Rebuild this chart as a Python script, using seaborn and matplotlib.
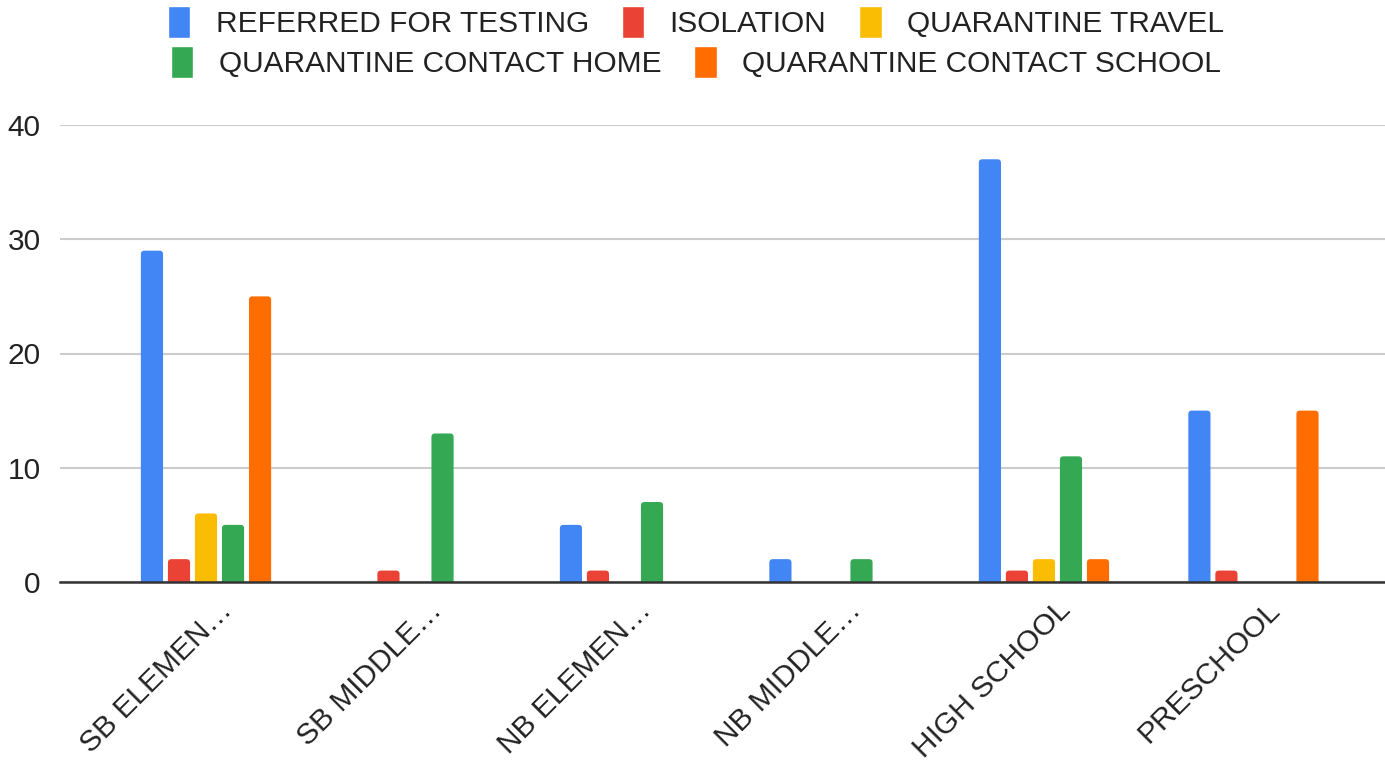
import matplotlib
matplotlib.use("Agg")
import matplotlib.pyplot as plt
import matplotlib.transforms as mtransforms
from matplotlib.patches import FancyBboxPatch
import seaborn as sns
import pandas as pd

categories = ["SB ELEMEN…", "SB MIDDLE…", "NB ELEMEN…", "NB MIDDLE…", "HIGH SCHOOL", "PRESCHOOL"]
series_names = ["REFERRED FOR TESTING", "ISOLATION", "QUARANTINE TRAVEL",
                "QUARANTINE CONTACT HOME", "QUARANTINE CONTACT SCHOOL"]
referred = [29, 0, 5, 2, 37, 15]
isolation = [2, 1, 1, 0, 1, 1]
travel = [6, 0, 0, 0, 2, 0]
contact_home = [5, 13, 7, 2, 11, 0]
contact_school = [25, 0, 0, 0, 2, 15]
colors = ["#4285F4", "#EA4335", "#FBBC04", "#34A853", "#FF6D01"]
yticks = [0, 10, 20, 30, 40]

series_values = [referred, isolation, travel, contact_home, contact_school]
rows = []
for name, vals in zip(series_names, series_values):
    for cat, v in zip(categories, vals):
        rows.append({"category": cat, "series": name, "value": v})
df = pd.DataFrame(rows)

sns.set_theme(style="white")
plt.rcParams["font.family"] = ["Liberation Sans", "DejaVu Sans"]
FS = 21.5

fig = plt.figure(figsize=(13.85, 7.62), dpi=100)
ax = fig.add_axes([60 / 1385, 1 - 582 / 762, 1 - 60 / 1385, (582 - 125) / 762])

sns.barplot(data=df, x="category", y="value", hue="series", order=categories,
            hue_order=series_names, palette=colors, width=0.645, gap=0.18,
            dodge=True, ax=ax, saturation=1, errorbar=None, legend=True)

handles, labels = ax.get_legend_handles_labels()
ax.get_legend().remove()

ax.set_xlim(-0.697, 5.628)
ax.set_ylim(0, 40)

# round the bar tops (Google-Sheets style) using the library-computed geometry
px_x = 209.5      # pixels per x unit
px_y = 11.425     # pixels per y unit
r_px = 3.5
for p in list(ax.patches):
    x, y = p.get_x(), p.get_y()
    w, h = p.get_width(), p.get_height()
    if h <= 0:
        p.remove()
        continue
    r = r_px / px_x
    ext = r_px / px_y
    fb = FancyBboxPatch((x, y - ext), w, h + ext,
                        boxstyle=f"round,pad=0,rounding_size={r}",
                        mutation_aspect=px_x / px_y,
                        facecolor=p.get_facecolor(), edgecolor="none",
                        linewidth=0, zorder=p.get_zorder())
    fb.set_clip_path(ax.patch)
    p.remove()
    ax.add_patch(fb)

ax.set_yticks(yticks)
ax.set_yticklabels([str(t) for t in yticks], fontsize=FS, color="#222222")
ax.yaxis.grid(True, color="#cccccc", linewidth=1.5)
ax.set_axisbelow(True)
for s in ["left", "right", "top"]:
    ax.spines[s].set_visible(False)
ax.spines["bottom"].set_color("#333333")
ax.spines["bottom"].set_linewidth(1.8)
ax.spines["bottom"].set_zorder(5)
ax.tick_params(axis="y", length=0, pad=14)
ax.tick_params(axis="x", length=0, pad=10)
ax.set_xlabel("")
ax.set_ylabel("")
ax.set_xticks(range(len(categories)))
ax.set_xticklabels(categories, rotation=45, ha="right", rotation_mode="anchor",
                   fontsize=FS, color="#222222")
offset = mtransforms.ScaledTranslation(12 / 100, 0, fig.dpi_scale_trans)
for lbl in ax.get_xticklabels():
    lbl.set_transform(lbl.get_transform() + offset)

common = dict(frameon=False, fontsize=FS, handlelength=0.75, handleheight=1.25,
              handletextpad=0.85, columnspacing=1.1, labelcolor="#222222")
fig.legend(handles[:3], labels[:3], loc="center", ncol=3,
           bbox_to_anchor=(0.5025, 1 - 22 / 762), **common)
fig.legend(handles[3:], labels[3:], loc="center", ncol=2,
           bbox_to_anchor=(0.5025, 1 - 62 / 762), **common)

fig.savefig("out.png", dpi=100, facecolor="white")
